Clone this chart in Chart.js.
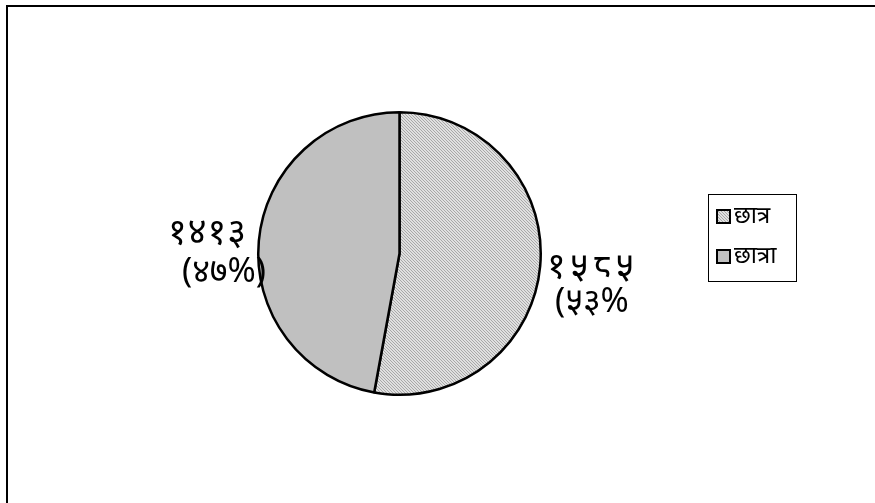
<!DOCTYPE html>
<html lang="ne">
<head>
    <meta charset="UTF-8">
    <title>छात्र / छात्रा</title>
    <script src="https://cdn.jsdelivr.net/npm/chart.js"></script>
    <style>
        body {
            margin: 0;
            padding: 0;
            background: #fff;
        }

        .frame {
            position: relative;
            width: 875px;
            height: 503px;
            overflow: hidden;
        }

        .frame::before {
            content: "";
            position: absolute;
            left: 6px;
            top: 5px;
            right: 0;
            bottom: 0;
            border-top: 2px solid #000;
            border-left: 2px solid #000;
        }

        canvas {
            position: absolute;
            left: 0;
            top: 0;
        }
    </style>
</head>
<body>
    <div class="frame">
        <canvas id="pie" width="875" height="503"></canvas>
    </div>

    <script>
        // data
        const labels = ['छात्र', 'छात्रा'];
        const counts = [1585, 1413];
        const countText = ['१५८५', '१४१३'];
        const percentText = ['(५३%', '(४७%)'];

        // diagonal hatch for the first slice
        function hatch() {
            const c = document.createElement('canvas');
            c.width = 3;
            c.height = 3;
            const g = c.getContext('2d');
            g.fillStyle = '#e0e0e0';
            g.fillRect(0, 0, 3, 3);
            g.fillStyle = '#a8a8a8';
            g.fillRect(0, 0, 1, 1);
            g.fillRect(1, 1, 1, 1);
            g.fillRect(2, 2, 1, 1);
            return g.createPattern(c, 'repeat');
        }

        const fills = [hatch(), '#c0c0c0'];
        const font = '"Noto Sans", "Lato", sans-serif';

        // labels beside the slices and the boxed legend
        const sideLabels = {
            id: 'sideLabels',
            afterDraw(chart) {
                const ctx = chart.ctx;
                ctx.save();
                ctx.fillStyle = '#000';
                ctx.textBaseline = 'middle';
                ctx.font = '36px ' + font;

                ctx.textAlign = 'left';
                ctx.letterSpacing = '4px';
                ctx.fillText(countText[0], 547, 268);
                ctx.letterSpacing = '0px';
                ctx.font = '34px ' + font;
                ctx.fillText(percentText[0], 555, 302);

                ctx.textAlign = 'right';
                ctx.font = '36px ' + font;
                ctx.letterSpacing = '1px';
                ctx.fillText(countText[1], 247, 234);
                ctx.letterSpacing = '0px';
                ctx.font = '34px ' + font;
                ctx.fillText(percentText[1], 266, 272);

                // legend box
                ctx.strokeStyle = '#000';
                ctx.lineWidth = 1;
                ctx.strokeRect(708.5, 194.5, 88, 87);
                ctx.textAlign = 'left';
                ctx.font = '24px ' + font;
                labels.forEach((lab, i) => {
                    const y = 210 + i * 40;
                    ctx.fillStyle = fills[i];
                    ctx.fillRect(717, y, 13, 13);
                    ctx.lineWidth = 2;
                    ctx.strokeRect(717, y, 13, 13);
                    ctx.fillStyle = '#000';
                    ctx.fillText(lab, 734, y + 6);
                });
                ctx.restore();
            }
        };

        new Chart(document.getElementById('pie'), {
            type: 'pie',
            data: {
                labels: labels,
                datasets: [{
                    data: counts,
                    backgroundColor: fills,
                    borderColor: '#000',
                    borderWidth: 2.5
                }]
            },
            options: {
                responsive: false,
                animation: false,
                layout: {
                    padding: { left: 257, right: 333, top: 111, bottom: 107 }
                },
                plugins: {
                    legend: { display: false },
                    tooltip: { enabled: false }
                }
            },
            plugins: [sideLabels]
        });
    </script>
</body>
</html>
